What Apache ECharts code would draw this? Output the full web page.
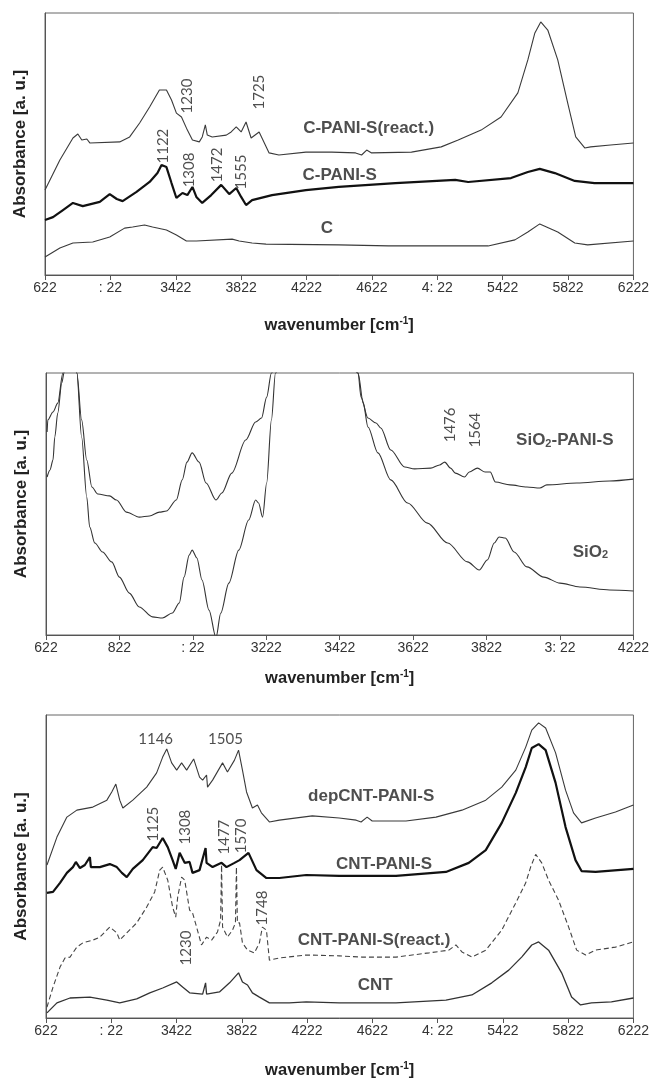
<!DOCTYPE html>
<html>
<head>
<meta charset="UTF-8">
<title>FTIR spectra</title>
<script src="https://cdn.jsdelivr.net/npm/echarts@6/dist/echarts.min.js"></script>
<style>
html, body { margin: 0; padding: 0; background: #fff; }
#main { width: 652px; height: 1082px; }
</style>
</head>
<body>
<div id="main"></div>
<script type="text/javascript">
// tick labels exactly as printed in the figure
var ticksWide = ['622', ': 22', '3422', '3822', '4222', '4622', '4: 22', '5422', '5822', '6222'];
var ticksSiO2 = ['622', '822', ': 22', '3222', '3422', '3622', '3822', '3: 22', '4222'];

// panel 1 : carbon samples  [wavenumber, absorbance a.u.]
var cPaniReact = [[400,32.4],[491,43.9],[571,52.3],[601,53.8],[625,51.5],[656,51.9],[674,50.4],[857,50.8],[918,52.7],[979,58.0],[1040,64.1],[1100,70.6],[1143,70.6],[1174,66.8],[1204,61.8],[1235,60.3],[1271,55.3],[1302,51.5],[1344,50.8],[1362,52.7],[1381,57.3],[1393,53.4],[1423,52.7],[1509,53.4],[1539,54.6],[1570,56.5],[1600,54.6],[1630,58.4],[1661,52.3],[1710,54.6],[1771,46.6],[1831,45.8],[1996,46.9],[2154,46.9],[2300,46.6],[2337,45.8],[2368,47.7],[2398,46.6],[2642,46.9],[2824,48.9],[2928,51.5],[3068,55.3],[3190,60.3],[3293,69.5],[3354,82.1],[3397,92.4],[3433,96.6],[3476,93.5],[3537,82.1],[3598,65.6],[3647,52.7],[3702,48.5],[3738,48.9],[3860,49.6],[4000,50.4]];
var cPani = [[400,21.0],[449,22.1],[510,24.8],[571,27.5],[631,26.3],[735,27.9],[796,30.9],[839,29.0],[875,28.2],[960,31.7],[1040,35.5],[1088,38.9],[1113,42.0],[1143,41.2],[1174,35.1],[1204,29.4],[1241,31.3],[1271,30.5],[1302,33.6],[1326,29.8],[1362,27.5],[1417,30.5],[1478,34.4],[1527,30.9],[1570,33.2],[1600,29.8],[1630,26.7],[1667,28.6],[1789,30.5],[1996,32.4],[2197,33.6],[2544,35.1],[2910,36.3],[2989,35.5],[3251,37.0],[3354,39.3],[3427,40.5],[3519,38.9],[3641,35.9],[3762,35.1],[4000,35.1]];
var cBare = [[400,6.9],[491,10.3],[571,12.2],[692,12.6],[796,14.5],[887,17.9],[936,18.3],[1009,19.1],[1058,18.3],[1143,17.2],[1204,15.3],[1265,13.0],[1326,13.0],[1545,13.7],[1588,13.0],[1667,12.2],[1752,11.8],[2197,11.5],[2501,11.1],[3111,11.1],[3275,13.4],[3354,16.4],[3427,19.5],[3537,16.4],[3641,12.2],[3720,11.5],[4000,13.0]];

// panel 2 : silica samples
var sio2Pani = [[403,77.5],[405,82.1],[419,85.1],[432,88.5],[446,100],[462,128],[484,100],[497,82.1],[511,66.8],[525,56.5],[541,53.8],[573,53.1],[592,51.5],[619,46.9],[654,45.0],[682,45.4],[709,46.9],[728,47.3],[755,51.5],[771,59.2],[784,66.0],[798,69.5],[817,66.0],[836,58.0],[863,51.5],[879,54.2],[906,61.8],[944,74.4],[971,81.3],[987,82.8],[1001,90.8],[1014,100],[1100,200],[1250,100],[1258,90.8],[1277,82.8],[1299,80.9],[1312,79.0],[1339,70.6],[1377,64.1],[1404,63.4],[1448,63.7],[1472,64.9],[1486,66.0],[1502,63.7],[1515,61.8],[1540,60.3],[1553,62.2],[1575,63.7],[1596,62.2],[1610,62.2],[1624,58.4],[1664,57.3],[1710,56.5],[1745,56.1],[1764,57.3],[1846,58.0],[1935,58.8],[2000,59.5]];
var sio2Bare = [[403,60.3],[411,63.0],[419,66.8],[424,75.6],[432,84.7],[443,96.2],[449,100],[465,128],[484,100],[497,75.6],[511,52.7],[519,41.2],[533,35.1],[554,31.7],[579,27.9],[600,22.1],[627,16.0],[654,10.7],[690,6.9],[717,6.5],[744,8.4],[763,12.2],[776,22.1],[790,30.5],[798,32.4],[811,29.4],[825,21.0],[844,9.5],[863,-1],[876,8.4],[898,19.8],[925,32.4],[952,43.9],[971,51.5],[979,50.4],[990,45.0],[1001,58.0],[1014,82.1],[1025,100],[1120,200],[1250,100],[1264,88.5],[1277,79.4],[1304,69.5],[1339,59.2],[1385,50.4],[1439,42.7],[1494,35.1],[1548,27.9],[1580,24.8],[1602,28.6],[1621,35.1],[1634,37.4],[1651,37.0],[1675,31.7],[1710,26.0],[1756,22.1],[1800,19.8],[1854,18.3],[1935,17.2],[2000,16.8]];

// panel 3 : nanotube samples
var depCntPani = [[406,50.5],[467,59.7],[528,66.3],[589,68.6],[687,69.6],[773,71.9],[803,74.6],[828,77.2],[852,71.9],[871,69.3],[932,71.9],[1017,76.2],[1078,80.9],[1115,86.1],[1140,88.8],[1170,84.2],[1201,81.8],[1231,84.2],[1262,81.8],[1305,85.5],[1341,79.5],[1360,78.5],[1384,80.2],[1390,76.2],[1421,78.5],[1482,84.2],[1512,81.2],[1555,85.1],[1580,88.4],[1604,81.8],[1629,74.6],[1665,69.3],[1696,70.3],[1720,67.7],[1769,64.7],[1830,65.3],[2032,66.7],[2197,66.0],[2301,65.3],[2331,64.7],[2368,66.3],[2399,65.0],[2606,65.0],[2790,66.3],[2949,68.6],[3095,71.9],[3193,76.2],[3279,81.8],[3340,89.4],[3377,95.0],[3419,97.4],[3462,95.7],[3523,87.5],[3584,75.2],[3633,67.7],[3682,64.4],[3768,66.0],[3890,68.0],[4000,70.3]];
var cntPani = [[406,41.3],[443,41.6],[486,44.6],[528,47.9],[565,49.8],[583,51.5],[608,49.5],[638,50.5],[669,53.1],[675,49.8],[730,49.8],[791,50.8],[834,49.8],[865,47.9],[895,46.5],[932,49.2],[993,52.1],[1054,56.4],[1078,56.1],[1115,59.4],[1146,56.4],[1176,52.1],[1195,49.2],[1219,54.5],[1250,51.2],[1280,51.5],[1298,47.9],[1341,48.8],[1378,56.1],[1384,51.2],[1421,49.8],[1476,51.2],[1506,49.8],[1555,51.2],[1586,52.1],[1641,54.5],[1690,48.8],[1751,46.2],[1830,46.2],[1995,47.2],[2197,46.9],[2545,46.9],[2851,48.2],[2991,51.2],[3095,55.4],[3193,64.4],[3279,74.3],[3340,82.8],[3377,89.1],[3419,90.4],[3462,88.4],[3523,77.6],[3584,63.0],[3645,52.1],[3682,48.5],[3768,48.2],[4000,49.2]];
var cntPaniReact = [[406,3.6],[443,10.2],[486,16.8],[516,19.8],[547,20.1],[589,23.4],[626,24.8],[687,25.7],[730,26.7],[791,30.0],[834,28.1],[852,25.7],[895,28.1],[956,31.4],[1017,36.6],[1066,41.6],[1097,48.8],[1115,49.8],[1146,45.5],[1176,36.6],[1195,33.3],[1207,39.9],[1231,46.5],[1250,45.5],[1280,35.6],[1298,34.7],[1323,30.0],[1353,24.1],[1384,26.7],[1415,25.7],[1451,28.4],[1470,32.3],[1476,50.5],[1482,30.0],[1512,26.7],[1543,29.0],[1561,31.4],[1567,49.8],[1573,31.4],[1586,31.4],[1604,24.8],[1635,22.4],[1677,21.5],[1708,24.8],[1726,30.0],[1751,29.0],[1769,19.1],[1830,19.8],[1995,20.8],[2197,20.5],[2337,20.1],[2545,20.1],[2747,21.5],[2869,22.4],[2912,24.1],[2949,21.8],[3010,20.1],[3095,22.4],[3193,29.0],[3279,38.0],[3340,44.6],[3370,49.8],[3401,54.0],[3438,51.2],[3480,45.5],[3541,38.9],[3603,30.0],[3652,22.4],[3707,20.8],[3768,22.4],[3890,23.4],[4000,25.1]];
var cntBare = [[406,1.7],[467,5.0],[547,6.6],[669,6.9],[773,5.9],[852,5.0],[956,6.3],[1036,8.3],[1115,9.9],[1201,11.9],[1237,10.2],[1280,8.3],[1360,7.9],[1378,11.6],[1384,7.9],[1463,8.6],[1525,11.6],[1580,14.9],[1604,11.9],[1635,10.9],[1665,8.3],[1708,6.9],[1769,5.0],[1891,5.0],[1995,5.3],[2197,5.0],[2545,5.0],[2851,5.9],[3010,7.6],[3132,11.6],[3236,15.8],[3315,20.1],[3377,24.1],[3419,25.1],[3480,22.4],[3560,14.9],[3621,6.9],[3676,4.3],[3743,5.0],[3865,5.3],[4000,6.6]];

// text annotations [wavenumber, absorbance, text]
var names1 = [[2380,56.1,'C-PANI-S(react.)'],[2203,38.2,'C-PANI-S'],[2124,17.9,'C']];
var peaks1 = [[1271,68.3,'1230'],[1710,69.8,'1725'],[1125,49.2,'1122'],[1283,40.1,'1308'],[1454,42.0,'1472'],[1600,39.3,'1555']];
var names2 = [[1813,74.4,'SiO2-PANI-S'],[1883,31.7,'SiO2']];
var peaks2 = [[1502,80.2,'1476'],[1569,78.2,'1564']];
var names3 = [[2393,73.3,'depCNT-PANI-S'],[2472,50.8,'CNT-PANI-S'],[2411,25.7,'CNT-PANI-S(react.)'],[2417,10.9,'CNT']];
var flatPeaks3 = [[1072,92.1,'1146'],[1500,92.1,'1505']];
var peaks3 = [[1054,64.0,'1125'],[1250,63.0,'1308'],[1494,59.7,'1477'],[1598,60.1,'1570'],[1726,36.3,'1748'],[1256,23.1,'1230']];

var myChart = echarts.init(document.getElementById('main'));

var axisFont = 'Liberation Sans, Arial, sans-serif';

function makeX(idx, min, max, interval, labels, nameGap) {
    return {
        type: 'value', gridIndex: idx, min: min, max: max, interval: interval,
        name: 'wavenumber [cm{sup|-1}]', nameLocation: 'middle', nameGap: nameGap,
        nameTextStyle: {
            fontFamily: axisFont, fontSize: 16.5, fontWeight: 'bold', color: '#222',
            rich: { sup: { fontFamily: axisFont, fontSize: 10, fontWeight: 'bold', color: '#222', verticalAlign: 'top', padding: [0, 0, 9, 0] } }
        },
        axisLine: { lineStyle: { color: '#555', width: 1 } },
        axisTick: { inside: false, length: 5, lineStyle: { color: '#555' } },
        axisLabel: {
            margin: 6, fontFamily: axisFont, fontSize: 14, color: '#333',
            formatter: function (v) { return labels[Math.round((v - min) / interval)]; }
        },
        splitLine: { show: false }
    };
}

function makeY(idx) {
    return {
        type: 'value', gridIndex: idx, min: 0, max: 100,
        name: 'Absorbance [a. u.]', nameLocation: 'middle', nameGap: 16, nameRotate: 90,
        nameTextStyle: { fontFamily: axisFont, fontSize: 17, fontWeight: 'bold', color: '#222' },
        axisLine: { show: true, lineStyle: { color: '#555' } },
        axisTick: { show: false }, axisLabel: { show: false }, splitLine: { show: false }
    };
}

function spectrum(idx, data, width, color, type) {
    return {
        type: 'line', xAxisIndex: idx, yAxisIndex: idx, data: data,
        showSymbol: false, symbol: 'none', clip: true, silent: true,
        smooth: idx === 1 ? 0.3 : false, smoothMonotone: 'x',
        lineStyle: { width: width, color: color, type: type || 'solid' }
    };
}

function textLayer(idx, arr, rotate, bold, size) {
    return {
        type: 'scatter', xAxisIndex: idx, yAxisIndex: idx, silent: true, z: 10,
        symbolSize: 1, itemStyle: { color: 'rgba(0,0,0,0)' },
        data: arr.map(function (a) { return { value: [a[0], a[1]], name: a[2] }; }),
        label: {
            show: true, position: 'inside', rotate: rotate,
            fontFamily: bold ? axisFont : 'Lato, Open Sans, sans-serif',
            fontSize: size, fontWeight: bold ? 'bold' : 'normal', color: '#222',
            formatter: function (p) { return p.name.replace('SiO2', 'SiO{sub|2}'); },
            rich: { sub: { fontFamily: axisFont, fontSize: 11, fontWeight: 'bold', color: '#222', verticalAlign: 'bottom', padding: [7, 0, 0, 0] } }
        }
    };
}

var gridStyle = { show: true, borderColor: '#666', borderWidth: 1, backgroundColor: 'transparent' };

var option = {
    animation: false,
    backgroundColor: '#fff',
    grid: [
        Object.assign({ left: 45, right: 16, top: 13, height: 262 }, gridStyle),
        Object.assign({ left: 46, right: 15, top: 373, height: 262 }, gridStyle),
        Object.assign({ left: 46, right: 17, top: 715, height: 303 }, gridStyle)
    ],
    xAxis: [
        makeX(0, 400, 4000, 400, ticksWide, 41),
        makeX(1, 400, 2000, 200, ticksSiO2, 34),
        makeX(2, 400, 4000, 400, ticksWide, 43)
    ],
    yAxis: [makeY(0), makeY(1), makeY(2)],
    series: [
        spectrum(0, cPaniReact, 1.1, '#3a3a3a'),
        spectrum(0, cPani, 2.2, '#111'),
        spectrum(0, cBare, 1.1, '#3a3a3a'),
        textLayer(0, names1, 0, true, 17),
        textLayer(0, peaks1, 90, false, 15),

        spectrum(1, sio2Pani, 1.1, '#333'),
        spectrum(1, sio2Bare, 1.1, '#333'),
        textLayer(1, names2, 0, true, 17),
        textLayer(1, peaks2, 90, false, 15),

        spectrum(2, depCntPani, 1.1, '#3a3a3a'),
        spectrum(2, cntPani, 2.2, '#111'),
        spectrum(2, cntPaniReact, 1.1, '#444', [5, 3]),
        spectrum(2, cntBare, 1.3, '#333'),
        textLayer(2, names3, 0, true, 17),
        textLayer(2, flatPeaks3, 0, false, 15),
        textLayer(2, peaks3, 90, false, 15)
    ]
};

myChart.setOption(option);
</script>
</body>
</html>
